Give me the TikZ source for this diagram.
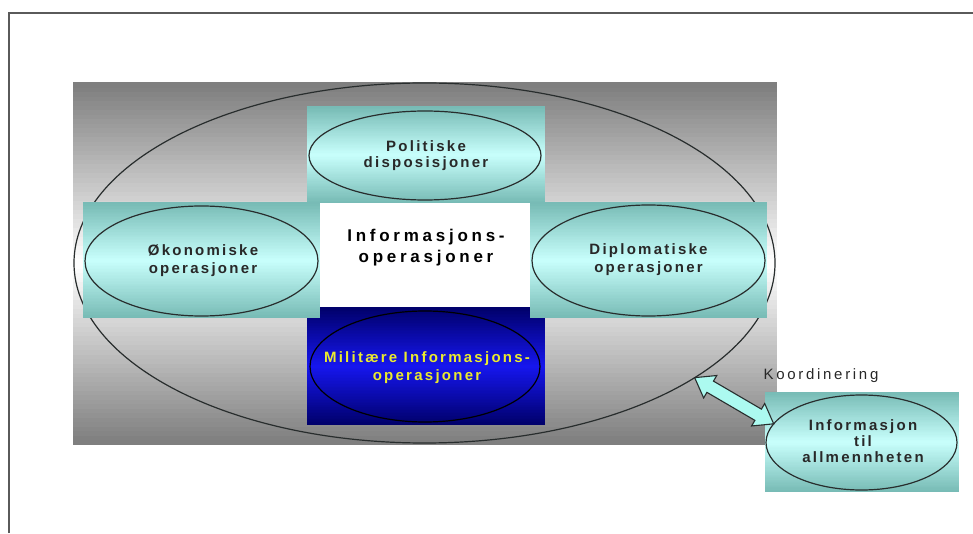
\documentclass[tikz,border=0pt]{standalone}
\usepackage{fontspec}
\setmainfont{Liberation Sans}
\newfontfamily\ovalfont[LetterSpace=15]{Liberation Sans}
\newfontfamily\titlefont[LetterSpace=22]{Liberation Sans}
\newfontfamily\notefont[LetterSpace=18]{Liberation Sans}
\usetikzlibrary{calc,shapes.geometric}

\definecolor{framegray}{RGB}{90,90,90}
\definecolor{bgdark}{RGB}{124,124,124}
\definecolor{tealdark}{RGB}{118,186,180}
\definecolor{teallight}{RGB}{200,255,252}
\definecolor{navydark}{RGB}{0,0,105}
\definecolor{navybright}{RGB}{22,22,238}
\definecolor{ovalline}{RGB}{40,45,45}
\definecolor{labelgray}{RGB}{40,40,40}
\definecolor{milyellow}{RGB}{235,235,45}
\definecolor{arrowfill}{RGB}{172,250,240}

% vertical gradient box: edge colour at top and bottom, mid colour in the middle
% #1 left, #2 bottom, #3 right, #4 top, #5 edge colour, #6 mid colour
\newcommand\gradbox[6]{%
  \begin{scope}
    \clip (#1,#2) rectangle (#3,#4);
    \foreach \gi in {0,...,79}{%
      \pgfmathtruncatemacro\gmix{abs(2*\gi+1-80)*100/80}%
      \pgfmathsetmacro\gya{#2+(\gi/80)*(#4-#2)}%
      \pgfmathsetmacro\gyb{\gya+(#4-#2)/80+0.6}%
      \fill[#5!\gmix!#6] (#1,\gya) rectangle (#3,\gyb);
    }%
  \end{scope}}

\tikzset{
  boxframe/.style={rectangle, inner sep=0pt, outer sep=0pt},
  oval/.style={ellipse, draw=ovalline, line width=1.2pt, inner sep=0pt,
    outer sep=0pt},
  ovaltext/.style={align=center, inner sep=0pt,
    font=\ovalfont\bfseries\fontsize{15}{18}\selectfont, text=labelgray},
}

\begin{document}
\begin{tikzpicture}[x=1pt, y=1pt]
  \useasboundingbox (0,0) rectangle (973,533);

  % page frame
  \draw[framegray, line width=1.6pt] (9,0) -- (9,520) -- (973,520);

  % grey shaded backdrop with the large outer oval
  \gradbox{73}{88}{777}{450}{bgdark}{white}
  \node[boxframe, minimum width=704pt, minimum height=362pt] (backdrop) at (425,269) {};
  \node[oval, minimum width=701pt, minimum height=360pt] (bigoval) at (424.5,270) {};

  % white centre panel
  \node[boxframe, fill=white, minimum width=210pt, minimum height=107pt]
        (centre) at (425,276.5) {};
  \node[font=\titlefont\bfseries\fontsize{17}{21}\selectfont, align=center,
        text=black, inner sep=0pt] (centrelabel) at (426,285) {Informasjons-\\operasjoner};

  % military box (below)
  \gradbox{307}{108}{545}{225}{navydark}{navybright}
  \node[boxframe, minimum width=238pt, minimum height=117pt] (milbox) at (426,166.5) {};
  \node[oval, draw=black, minimum width=230pt, minimum height=111pt]
        (miloval) at (425,166.5) {};
  \node[ovaltext, text=milyellow] (millabel) at (427,165) {Militære Informasjons-\\operasjoner};

  % political box (top)
  \gradbox{307}{330}{545}{426}{tealdark}{teallight}
  \node[boxframe, minimum width=238pt, minimum height=96pt] (polbox) at (426,378) {};
  \node[oval, minimum width=232pt, minimum height=89pt] (poloval) at (425,377.5) {};
  \node[ovaltext, font=\ovalfont\bfseries\fontsize{15}{16}\selectfont]
        (pollabel) at (426,377) {Politiske\\disposisjoner};

  % economic box (left)
  \gradbox{83}{215}{320}{330}{tealdark}{teallight}
  \node[boxframe, minimum width=237pt, minimum height=115pt] (okbox) at (201.5,272.5) {};
  \node[oval, minimum width=233pt, minimum height=110pt] (okoval) at (201.5,272) {};
  \node[ovaltext] (oklabel) at (203,272) {Økonomiske\\operasjoner};

  % diplomatic box (right)
  \gradbox{530}{215}{767}{330}{tealdark}{teallight}
  \node[boxframe, minimum width=237pt, minimum height=115pt] (dipbox) at (648.5,272.5) {};
  \node[oval, minimum width=233pt, minimum height=111pt] (dipoval) at (648.5,272.5) {};
  \node[ovaltext] (diplabel) at (648.5,273) {Diplomatiske\\operasjoner};

  % public information box
  \gradbox{765}{41}{959}{141}{tealdark}{teallight}
  \node[boxframe, minimum width=194pt, minimum height=100pt] (infobox) at (862,91) {};
  \node[oval, minimum width=191pt, minimum height=95pt] (infooval) at (861.5,90.5) {};
  \node[ovaltext, font=\ovalfont\bfseries\fontsize{15}{16}\selectfont]
        (infolabel) at (863,92) {Informasjon\\til\\allmennheten};

  % coordination block arrow
  \coordinate (ca) at (bigoval.-23);
  \coordinate (cb) at (infooval.168);
  \draw[ovalline, line width=1.1pt, fill=arrowfill, line join=miter]
    (ca)
    -- ($(ca)!18pt!(cb)!13pt!90:(cb)$)
    -- ($(ca)!18pt!(cb)!6.5pt!90:(cb)$)
    -- ($(cb)!18pt!(ca)!6.5pt!-90:(ca)$)
    -- ($(cb)!18pt!(ca)!13pt!-90:(ca)$)
    -- (cb)
    -- ($(cb)!18pt!(ca)!13pt!90:(ca)$)
    -- ($(cb)!18pt!(ca)!6.5pt!90:(ca)$)
    -- ($(ca)!18pt!(cb)!6.5pt!-90:(cb)$)
    -- ($(ca)!18pt!(cb)!13pt!-90:(cb)$)
    -- cycle;
  \node[font=\notefont\fontsize{15}{16}\selectfont, text=labelgray, inner sep=0pt]
        (coordlabel) at (821,157) {Koordinering};
\end{tikzpicture}
\end{document}
